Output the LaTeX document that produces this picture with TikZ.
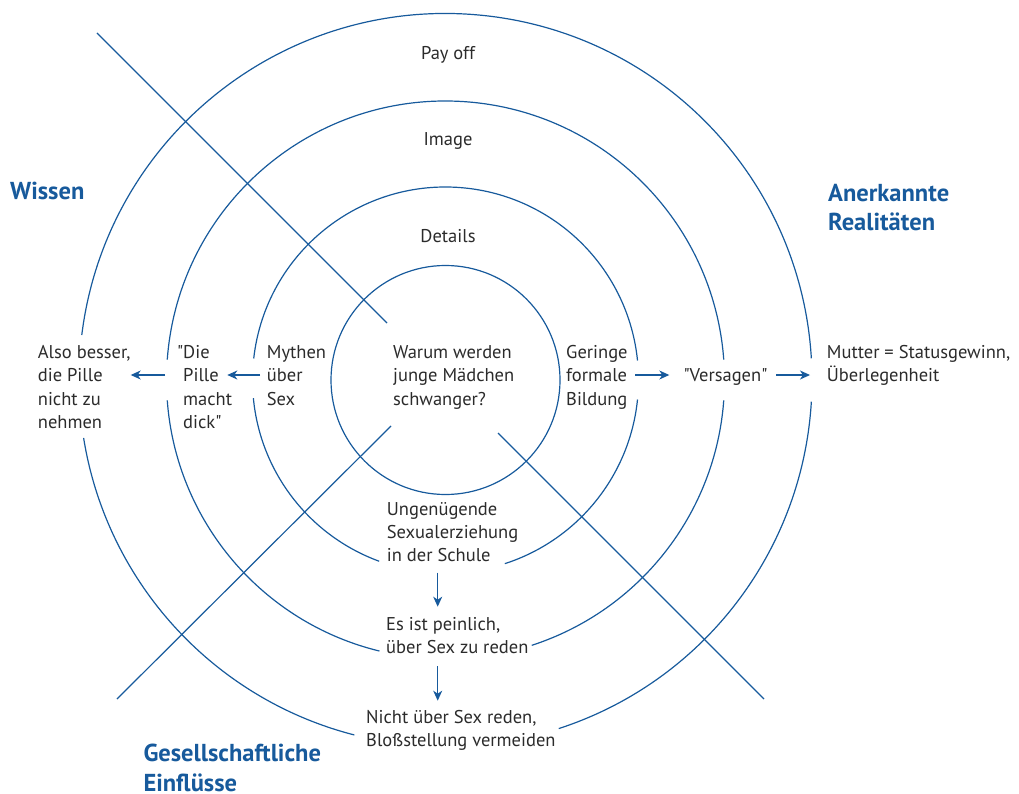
\documentclass[tikz,border=0pt]{standalone}
\usepackage{fontspec}
\setmainfont{PT Sans}
\usetikzlibrary{arrows.meta,calc}
\definecolor{dblue}{HTML}{175A9C}
\definecolor{txt}{HTML}{2B2B2B}
\newcommand\mlines[2][23.4pt]{\vtop{\baselineskip=#1\lineskiplimit=-20pt\lineskip=0pt\halign{##\hfil\cr#2\crcr}}}
\newcommand\sq{\XeTeXglyph\XeTeXcharglyph"22\relax}
\begin{document}
\begin{tikzpicture}[x=1pt,y=-1pt,
  ring/.style={draw=dblue,line width=1.2pt},
  txtnode/.style={anchor=base west,inner sep=0pt,text=txt,font=\fontsize{18.5pt}{23.4pt}\selectfont},
  ctr/.style={anchor=base,inner sep=0pt,text=txt,font=\fontsize{18.5pt}{23.4pt}\selectfont},
  head/.style={anchor=base west,inner sep=0pt,text=dblue,font=\fontsize{24.5pt}{29.7pt}\selectfont\bfseries},
  arr/.style={draw=dblue,line width=1.2pt,-{Stealth[length=10pt,width=9pt,inset=3pt]}}
]
\useasboundingbox (0,0) rectangle (1019,794);
\coordinate (C) at (445.5,380);
% rings
\draw[ring] (C) circle[radius=114.5];
\draw[ring] (C) ++(5.8:193) arc[start angle=5.8,end angle=72.1,radius=193];
\draw[ring] (C) ++(110.1:193) arc[start angle=110.1,end angle=174.6,radius=193];
\draw[ring] (C) ++(186.4:193) arc[start angle=186.4,end angle=354.2,radius=193];
\draw[ring] (C) ++(4.2:279) arc[start angle=4.2,end angle=72,radius=279];
\draw[ring] (C) ++(103.7:279) arc[start angle=103.7,end angle=175.8,radius=279];
\draw[ring] (C) ++(184.2:279) arc[start angle=184.2,end angle=355.8,radius=279];
\draw[ring] (C) ++(3.4:366.5) arc[start angle=3.4,end angle=72,radius=366.5];
\draw[ring] (C) ++(104.4:366.5) arc[start angle=104.4,end angle=170.9,radius=366.5];
\draw[ring] (C) ++(187.05:366.5) arc[start angle=187.05,end angle=356.6,radius=366.5];
% diagonals
\coordinate (d1a) at (97,33);   \coordinate (d1b) at (387,323);
\coordinate (d2a) at (117,699); \coordinate (d2b) at (391,426);
\coordinate (d3a) at (498,433); \coordinate (d3b) at (764,699);
\draw[ring] (d1a) -- (d1b);
\draw[ring] (d2a) -- (d2b);
\draw[ring] (d3a) -- (d3b);
% labels
\node[ctr] (payoff) at (448,59.3) {Pay off};
\node[ctr] (image) at (448,145.7) {Image};
\node[ctr] (details) at (448,243) {Details};
\node[head] (wissen) at (10,200) {Wissen};
\node[head] (anerk) at (828,201.7) {\mlines[29.3pt]{Anerkannte\cr Realitäten}};
\node[head] (gesell) at (143.3,761) {\mlines[30pt]{Gesellschaftliche\cr Einflüsse}};
\node[txtnode] (also) at (37.7,358.3) {\mlines{Also besser,\cr die Pille\cr nicht zu\cr nehmen}};
\node[txtnode] (pille) at (183,358.3) {\mlines{\llap{\sq}Die\cr Pille\cr macht\cr dick\sq}};
\node[txtnode] (mythen) at (266.7,358.3) {\mlines{Mythen\cr über\cr Sex}};
\node[txtnode] (warum) at (393,358.3) {\mlines{Warum werden\cr junge Mädchen\cr schwanger?}};
\node[txtnode] (geringe) at (566,358.3) {\mlines{Geringe\cr formale\cr Bildung}};
\node[txtnode] (versagen) at (683.3,381.7) {\sq Versagen\sq};
\node[txtnode] (mutter) at (826.7,358.3) {\mlines{Mutter = Statusgewinn,\cr Überlegenheit}};
\node[txtnode] (ungen) at (386.7,515) {\mlines{Ungenügende\cr Sexualerziehung\cr in der Schule}};
\node[txtnode] (esist) at (386,630) {\mlines{Es ist peinlich,\cr über Sex zu reden}};
\node[txtnode] (nicht) at (366,723.3) {\mlines{Nicht über Sex reden,\cr Bloßstellung vermeiden}};
% arrows
\draw[arr] ($(mythen.base west)+(-6.7,16.7)$) -- ($(pille.base west)+(44.3,16.7)$);
\draw[arr] ($(pille.base west)+(-18,16.7)$) -- ($(also.base west)+(93,16.7)$);
\draw[arr] ($(geringe.base west)+(69,16.7)$) -- ($(versagen.base west)+(-14,-6.7)$);
\draw[arr] ($(versagen.base west)+(92.7,-6.7)$) -- ($(mutter.base west)+(-16.7,16.7)$);
\draw[arr] ($(ungen.base west)+(51,57.7)$) -- ($(esist.base west)+(51.7,-23.3)$);
\draw[arr] ($(esist.base west)+(51.7,36)$) -- ($(nicht.base west)+(71.7,-22.6)$);
\end{tikzpicture}
\end{document}
